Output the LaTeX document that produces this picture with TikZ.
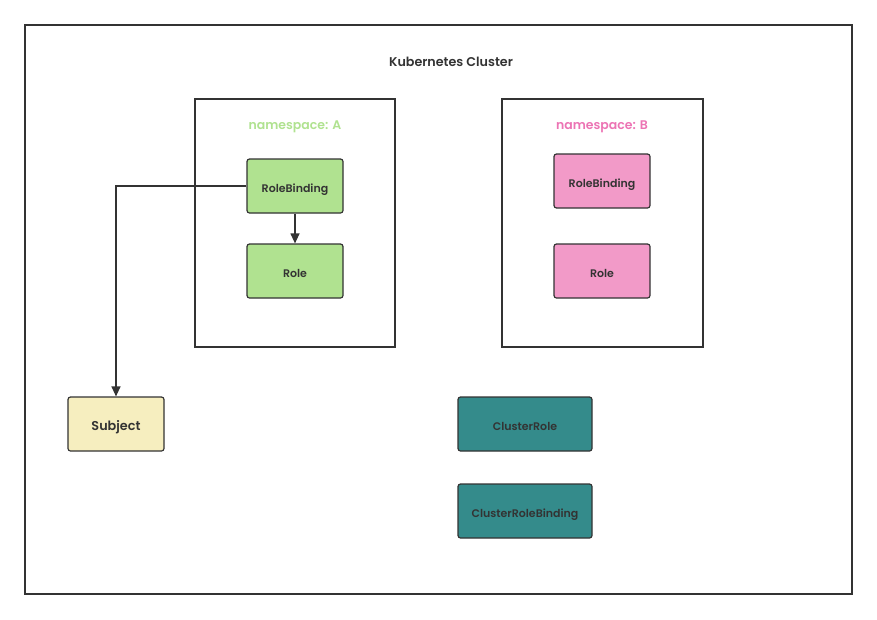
\documentclass[tikz,border=0pt]{standalone}
\usepackage{fontspec}
\setmainfont{Poppins}[UprightFont=* Medium, BoldFont=* SemiBold]
\usetikzlibrary{arrows.meta}
\definecolor{nsgreen}{HTML}{B0E290}
\definecolor{nspink}{HTML}{F29AC8}
\definecolor{nspinktext}{HTML}{EC74B4}
\definecolor{subjfill}{HTML}{F6EEBF}
\definecolor{clusterfill}{HTML}{348B8B}
\definecolor{ink}{HTML}{333333}
\tikzset{
  kind node/.style={
    rounded corners=2.5pt,
    draw=ink,
    line width=1.2pt,
    text=ink,
    minimum width=96pt,
    minimum height=54pt,
    text height=12pt,
    text depth=0pt,
    font=\fontsize{11}{13}\selectfont\bfseries,
    align=center,
  },
  frame/.style={draw=ink, line width=1.2pt},
  link/.style={draw=ink, line width=1.2pt, -{Triangle[length=10pt,width=9pt]}},
}

\begin{document}
\begin{tikzpicture}[x=1pt, y=-1pt]
      \useasboundingbox (0,0) rectangle (877,619);

      % cluster and namespaces
      \draw[frame] (25,25) rectangle (852,594);
      \node[text=ink, font=\fontsize{12.7}{14}\selectfont\bfseries] (title) at (451,62) {Kubernetes Cluster};
      \draw[frame] (195,99) rectangle (395,347);
      \draw[frame] (502,99) rectangle (703,347);
      \node[text=nsgreen, font=\fontsize{12.5}{14}\selectfont\bfseries] (nsA) at (295,127) {namespace: A};
      \node[text=nspinktext, font=\fontsize{12.5}{14}\selectfont\bfseries] (nsB) at (602,127) {namespace: B};

      \node[kind node, fill=nsgreen] (rbA) at (295,186) {RoleBinding};
      \node[kind node, fill=nsgreen] (roleA) at (295,271) {Role};
      \node[kind node, fill=nspink] (rbB) at (602,181) {RoleBinding};
      \node[kind node, fill=nspink] (roleB) at (602,271) {Role};

      \node[kind node, fill=subjfill, font=\fontsize{12.8}{15}\selectfont\bfseries] (subject) at (116,424) {Subject};
      \node[kind node, fill=clusterfill, minimum width=134pt] (cr) at (525,424) {ClusterRole};
      \node[kind node, fill=clusterfill, minimum width=134pt] (crb) at (525,511) {ClusterRoleBinding};

      \draw[link] (rbA) -- (roleA);
      \draw[link] (rbA.west) -| (subject.north);
    \end{tikzpicture}
\end{document}
